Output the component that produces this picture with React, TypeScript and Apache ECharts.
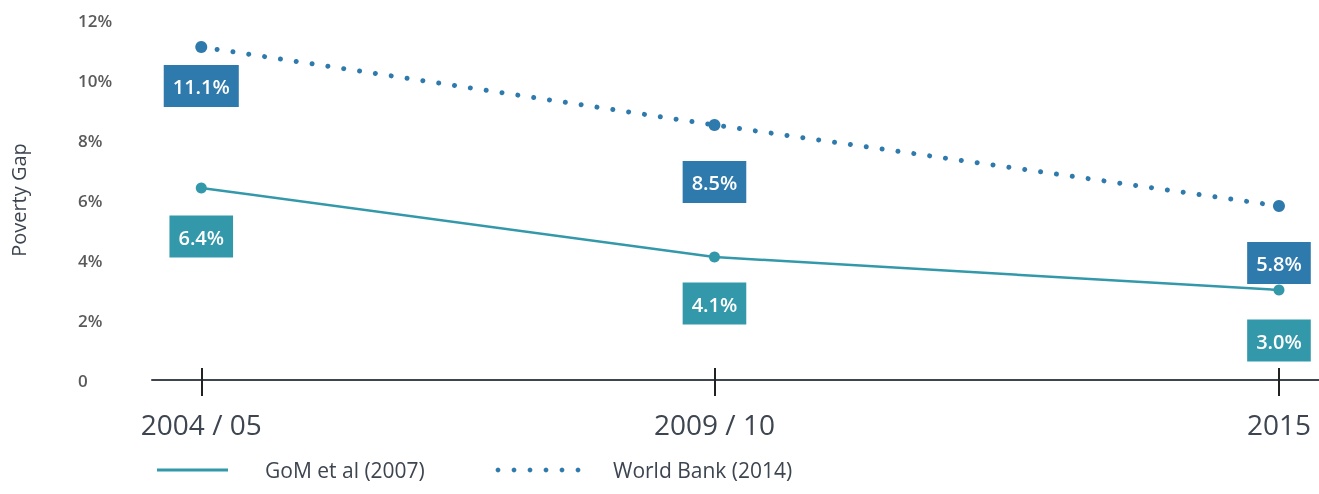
import React, { useEffect, useRef } from "react";
import * as echarts from "echarts";

const xValues = [2004.5, 2009.5, 2015];
const xLabels = ["2004 / 05", "2009 / 10", "2015"];
const gomValues = [6.4, 4.1, 3.0];
const wbValues = [11.1, 8.5, 5.8];
const seriesNames = ["GoM et al (2007)", "World Bank (2014)"];
const yTicks = [0, 2, 4, 6, 8, 10, 12];
const yAxisName = "Poverty Gap";

const TEAL = "#3399aa";
const BLUE = "#2f7aad";
const DARK = "#3d4550";
const FONT = "'Open Sans', 'Noto Sans', sans-serif";

const gomLabelDist = [22, 20, 24];
const wbLabelDist = [12, 30, 30];

export default function App() {
  const ref = useRef<HTMLDivElement>(null);
  useEffect(() => {
    document.body.style.margin = "0";
    const chart = echarts.init(ref.current!, null, { renderer: "svg" });
    const labelBase = (color: string) => ({
      show: true,
      position: "bottom",
      color: "#fff",
      fontSize: 20,
      fontWeight: 600,
      fontFamily: FONT,
      backgroundColor: color,
      padding: [10, 9, 9, 9],
      lineHeight: 23,
      formatter: (p: any) => p.value[1].toFixed(1) + "%",
    });
    const mk = (vals: number[], dists: number[], color: string) =>
      vals.map((v, i) => ({
        value: [xValues[i], v],
        label: { ...labelBase(color), distance: dists[i] },
      }));
    const legendDots = Array.from({ length: 6 }, (_, i) => ({
      type: "circle",
      shape: { cx: 498 + i * 16, cy: 470, r: 2.4 },
      style: { fill: BLUE },
    }));
    chart.setOption({
      animation: false,
      grid: {
        left: 152,
        right: 0,
        top: 20,
        bottom: 114,
        containLabel: false,
        outerBoundsMode: "none",
      },
      xAxis: [
        {
          type: "value",
          min: 2004.02,
          max: 2015.39,
          axisLine: { show: true, lineStyle: { color: DARK, width: 2 } },
          axisTick: {
            show: true,
            customValues: xValues,
            length: 16,
            lineStyle: { color: "#222", width: 2 },
          },
          axisLabel: {
            show: true,
            customValues: xValues,
            margin: 30,
            fontSize: 28,
            fontFamily: FONT,
            color: DARK,
            formatter: (v: number) => {
              const i = xValues.findIndex((x) => Math.abs(x - v) < 1e-6);
              return i >= 0 ? xLabels[i] : "";
            },
          },
          splitLine: { show: false },
        },
        {
          type: "value",
          position: "bottom",
          min: 2004.02,
          max: 2015.39,
          axisLine: { show: false },
          axisTick: {
            show: true,
            inside: true,
            customValues: xValues,
            length: 12,
            lineStyle: { color: "#222", width: 2 },
          },
          axisLabel: { show: false },
          splitLine: { show: false },
        },
      ],
      yAxis: {
        type: "value",
        min: 0,
        max: 12,
        interval: 2,
        name: yAxisName,
        nameLocation: "middle",
        nameRotate: 90,
        nameGap: 124,
        nameTextStyle: { fontSize: 20, color: DARK, fontFamily: FONT },
        axisLine: { show: false },
        axisTick: { show: false },
        splitLine: { show: false },
        axisLabel: {
          align: "left",
          margin: 74,
          fontSize: 17,
          fontWeight: 600,
          color: "#5a5a5a",
          fontFamily: FONT,
          formatter: (v: number) => (yTicks.includes(v) ? (v === 0 ? "0" : v + "%") : ""),
        },
      },
      series: [
        {
          name: seriesNames[0],
          type: "line",
          data: mk(gomValues, gomLabelDist, TEAL),
          symbol: "circle",
          symbolSize: 11,
          itemStyle: { color: TEAL },
          lineStyle: { color: TEAL, width: 2.5 },
          z: 3,
        },
        {
          name: seriesNames[1],
          type: "line",
          data: mk(wbValues, wbLabelDist, BLUE),
          symbol: "circle",
          symbolSize: 12,
          itemStyle: { color: BLUE },
          lineStyle: { color: BLUE, width: 5, type: [0.01, 16], cap: "round" },
          z: 3,
        },
      ],
      graphic: [
        {
          type: "line",
          shape: { x1: 157, y1: 470, x2: 228, y2: 470 },
          style: { stroke: TEAL, lineWidth: 3 },
        },
        ...legendDots,
        {
          type: "text",
          x: 265,
          y: 470,
          style: {
            text: seriesNames[0],
            fontSize: 21,
            fontFamily: FONT,
            fill: DARK,
            verticalAlign: "middle",
          },
        },
        {
          type: "text",
          x: 613,
          y: 470,
          style: {
            text: seriesNames[1],
            fontSize: 21,
            fontFamily: FONT,
            fill: DARK,
            verticalAlign: "middle",
          },
        },
      ],
    });
    return () => chart.dispose();
  }, []);
  return (
    <div
      ref={ref}
      style={{ position: "fixed", left: 0, top: 0, width: 1319, height: 494 }}
    />
  );
}
